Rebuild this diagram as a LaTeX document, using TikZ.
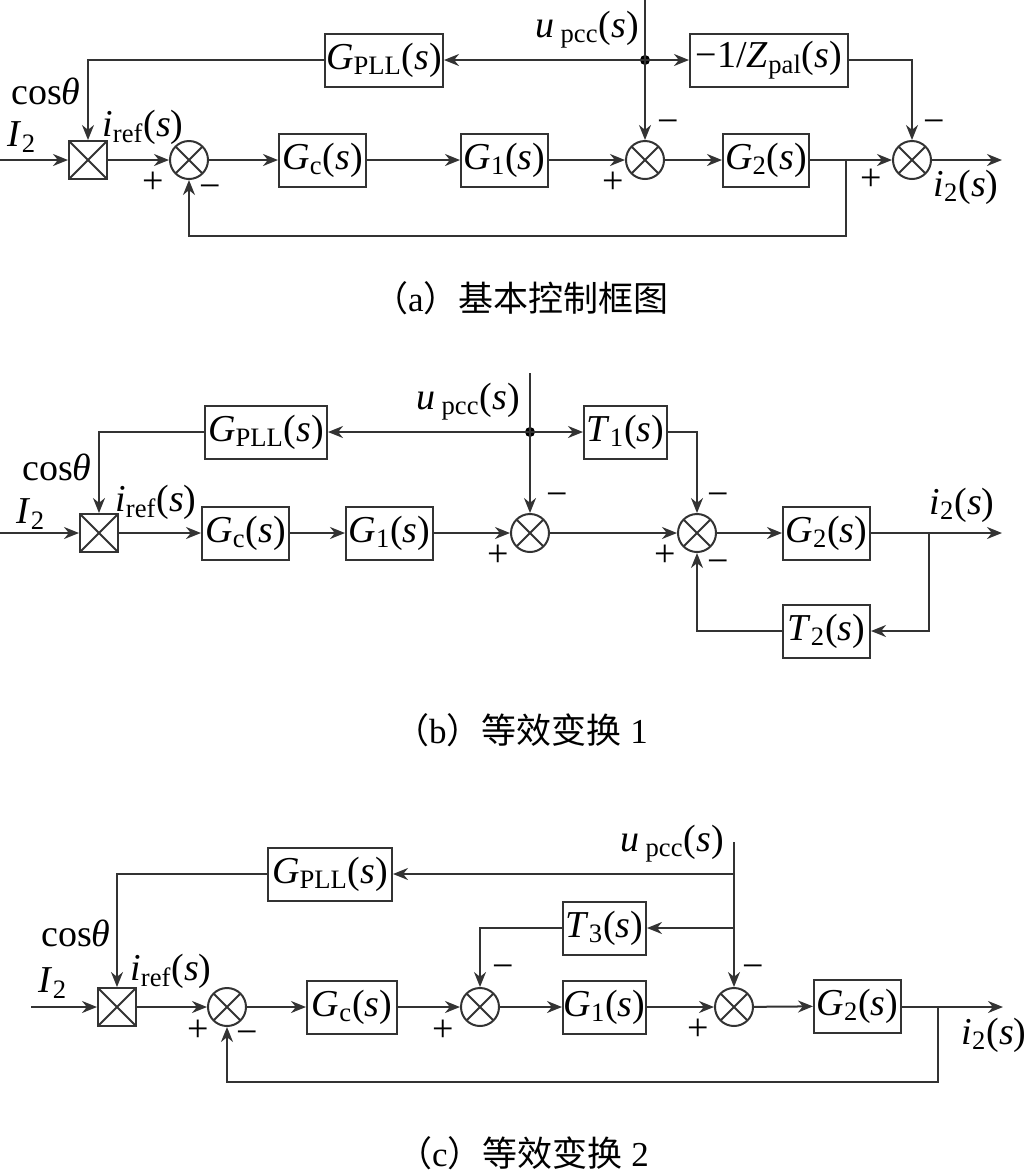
\documentclass[tikz,border=0pt]{standalone}
\usepackage{fontspec}
\setmainfont{Liberation Serif}
\newfontfamily\cjk{Noto Sans CJK SC}
\usetikzlibrary{arrows.meta}
\newcommand\fs{\fontsize{19pt}{22pt}\selectfont}
\newcommand\capfs{\fontsize{17.5pt}{20pt}\selectfont}
\newcommand\Gof[1]{\textit{G}\textsubscript{#1}(\textit{s})}
\newcommand\Tof[1]{\textit{T}\textsubscript{#1}(\textit{s})}
\newcommand\upcc{\textit{u}\,\textsubscript{pcc}(\textit{s})}
\newcommand\iref{\textit{i}\textsubscript{ref}(\textit{s})}
\newcommand\itwo{\textit{i}\textsubscript{2}(\textit{s})}
\newcommand\Itwo{\textit{I}\textsubscript{2}}
\newcommand\costh{cos\textit{θ}}
\definecolor{linec}{gray}{0.2}
\begin{document}
\begin{tikzpicture}[x=0.5pt,y=-0.5pt,
  >={Stealth[length=7.5pt,width=6pt]},
  color=linec, line width=1pt,
  blk/.style={draw=linec,line width=1pt,minimum height=26.5pt,inner sep=0pt,font=\fs,text=black},
  sumc/.style={circle,draw=linec,line width=1pt,minimum size=19pt,inner sep=0pt,
    path picture={\draw[line width=1pt] (path picture bounding box.north west) -- (path picture bounding box.south east)
      (path picture bounding box.north east) -- (path picture bounding box.south west);}},
  mult/.style={rectangle,draw=linec,line width=1pt,minimum size=19pt,inner sep=0pt,
    path picture={\draw[line width=1pt] (path picture bounding box.north west) -- (path picture bounding box.south east)
      (path picture bounding box.north east) -- (path picture bounding box.south west);}},
  lbl/.style={font=\fs,inner sep=0pt,text=black},
  sgn/.style={font=\fs,inner sep=0pt,text=black},
  capt/.style={font=\capfs,inner sep=0pt,text=black},
  dotc/.style={circle,fill=black,inner sep=0pt,minimum size=5pt}
]
\useasboundingbox (0,0) rectangle (1029,1175);

% ================= (a) =================
\node[mult] (Ma) at (88,160) {};
\node[sumc] (S1a) at (189,160) {};
\node[blk,minimum width=43.5pt] (Gca) at (322.5,160) {\Gof{c}};
\node[blk,minimum width=43.5pt] (G1a) at (504.5,160) {\Gof{1}};
\node[sumc] (S2a) at (645,160) {};
\node[blk,minimum width=43pt] (G2a) at (766,160) {\Gof{2}};
\node[sumc] (S3a) at (912,160) {};
\node[blk,minimum width=59pt] (GPLLa) at (384,60) {\Gof{PLL}};
\node[blk,minimum width=79pt] (Zpala) at (769,60) {−1/\textit{Z}\textsubscript{pal}(\textit{s})};
\coordinate (in_a) at (0,160);
\coordinate (top_a) at (645,0);
\node[dotc] (dot_a) at (645,60) {};
\coordinate (br_a) at (846,160);
\coordinate (fb_a) at (846,236);
\coordinate (out_a) at (1002,160);

\draw[->] (in_a) -- (Ma);
\draw[->] (Ma) -- (S1a);
\draw[->] (S1a) -- (Gca);
\draw[->] (Gca) -- (G1a);
\draw[->] (G1a) -- (S2a);
\draw[->] (S2a) -- (G2a);
\draw[->] (G2a) -- (S3a);
\draw[->] (S3a) -- (out_a);
\draw (top_a) -- (dot_a.center);
\draw[->] (dot_a.center) -- (S2a);
\draw[->] (dot_a.center) -- (GPLLa);
\draw[->] (dot_a.center) -- (Zpala);
\draw[->] (GPLLa.west) -| (Ma.north);
\draw[->] (Zpala.east) -| (S3a.north);
\draw[->] (br_a) -- (fb_a) -| (S1a.south);

\node[lbl] (la1) at (46,91) {\costh};
\node[lbl] (la2) at (22,137) {\Itwo};
\node[lbl] (la3) at (143,127) {\iref};
\node[lbl] (la4) at (587,30) {\upcc};
\node[lbl] (la5) at (966,187) {\itwo};
\node[sgn] at (153,183) {+};
\node[sgn] at (210,192) {−};
\node[sgn] at (613,183) {+};
\node[sgn] at (668,127) {−};
\node[sgn] at (871,180) {+};
\node[sgn] at (934,127) {−};
\node[capt] (capa) at (521,298) {\cjk （\rmfamily a\cjk ）基本控制框图};

% ================= (b) =================
\node[mult] (Mb) at (99,533) {};
\node[blk,minimum width=61pt] (GPLLb) at (266,432) {\Gof{PLL}};
\node[blk,minimum width=43.5pt] (Gcb) at (245.5,533) {\Gof{c}};
\node[blk,minimum width=43.5pt] (G1b) at (389.5,533) {\Gof{1}};
\node[sumc] (S1b) at (530,533) {};
\node[blk,minimum width=41.5pt] (T1b) at (625.5,432) {\Tof{1}};
\node[sumc] (S2b) at (697,533) {};
\node[blk,minimum width=43.5pt] (G2b) at (826.5,533) {\Gof{2}};
\node[blk,minimum width=43.5pt] (T2b) at (826.5,631) {\Tof{2}};
\coordinate (in_b) at (0,533);
\coordinate (top_b) at (530,373);
\node[dotc] (dot_b) at (530,432) {};
\coordinate (br_b) at (929,533);
\coordinate (out_b) at (1002,533);

\draw[->] (in_b) -- (Mb);
\draw[->] (Mb) -- (Gcb);
\draw[->] (Gcb) -- (G1b);
\draw[->] (G1b) -- (S1b);
\draw[->] (S1b) -- (S2b);
\draw[->] (S2b) -- (G2b);
\draw[->] (G2b) -- (out_b);
\draw (top_b) -- (dot_b.center);
\draw[->] (dot_b.center) -- (S1b);
\draw[->] (dot_b.center) -- (GPLLb);
\draw[->] (dot_b.center) -- (T1b);
\draw[->] (GPLLb.west) -| (Mb.north);
\draw[->] (T1b.east) -| (S2b.north);
\draw[->] (br_b) |- (T2b.east);
\draw[->] (T2b.west) -| (S2b.south);

\node[lbl] (lb1) at (57,467) {\costh};
\node[lbl] (lb2) at (31,514) {\Itwo};
\node[lbl] (lb3) at (156,502) {\iref};
\node[lbl] (lb4) at (468,402) {\upcc};
\node[lbl] (lb5) at (962,505) {\itwo};
\node[sgn] at (498,556) {+};
\node[sgn] at (557,500) {−};
\node[sgn] at (665,556) {+};
\node[sgn] at (718,500) {−};
\node[sgn] at (718,567) {−};
\node[capt] (capb) at (521,730) {\cjk （\rmfamily b\cjk ）等效变换\rmfamily\ 1};

% ================= (c) =================
\node[mult] (Mc) at (117,1007) {};
\node[blk,minimum width=62pt] (GPLLc) at (330,874) {\Gof{PLL}};
\node[sumc] (S1c) at (227,1007) {};
\node[blk,minimum width=45pt] (Gcc) at (352,1007) {\Gof{c}};
\node[sumc] (S2c) at (480,1007) {};
\node[blk,minimum width=41.5pt] (T3c) at (604.5,928) {\Tof{3}};
\node[blk,minimum width=41.5pt] (G1c) at (604.5,1007) {\Gof{1}};
\node[sumc] (S3c) at (734,1007) {};
\node[blk,minimum width=43.5pt] (G2c) at (857.5,1006) {\Gof{2}};
\coordinate (in_c) at (31,1007);
\coordinate (top_c) at (734,842);
\coordinate (j1_c) at (734,874);
\coordinate (j2_c) at (734,928);
\coordinate (br_c) at (938,1007);
\coordinate (fb_c) at (938,1082);
\coordinate (out_c) at (1003,1007);

\draw[->] (in_c) -- (Mc);
\draw[->] (Mc) -- (S1c);
\draw[->] (S1c) -- (Gcc);
\draw[->] (Gcc) -- (S2c);
\draw[->] (S2c) -- (G1c);
\draw[->] (G1c) -- (S3c);
\draw[->] (S3c) -- (G2c);
\draw[->] (G2c.east |- out_c) -- (out_c);
\draw (top_c) -- (j1_c) -- (j2_c);
\draw[->] (j2_c) -- (S3c);
\draw[->] (j1_c) -- (GPLLc);
\draw[->] (j2_c) -- (T3c);
\draw[->] (GPLLc.west) -| (Mc.north);
\draw[->] (T3c.west) -| (S2c.north);
\draw[->] (br_c) -- (fb_c) -| (S1c.south);

\node[lbl] (lc1) at (76,933) {\costh};
\node[lbl] (lc2) at (53,983) {\Itwo};
\node[lbl] (lc3) at (171,971) {\iref};
\node[lbl] (lc4) at (672,844) {\upcc};
\node[lbl] (lc5) at (994,1035) {\itwo};
\node[sgn] at (198,1031) {+};
\node[sgn] at (247,1038) {−};
\node[sgn] at (443,1031) {+};
\node[sgn] at (503,972) {−};
\node[sgn] at (698,1030) {+};
\node[sgn] at (753,972) {−};
\node[capt] (capc) at (523,1153) {\cjk （\rmfamily c\cjk ）等效变换\rmfamily\ 2};
\end{tikzpicture}
\end{document}
